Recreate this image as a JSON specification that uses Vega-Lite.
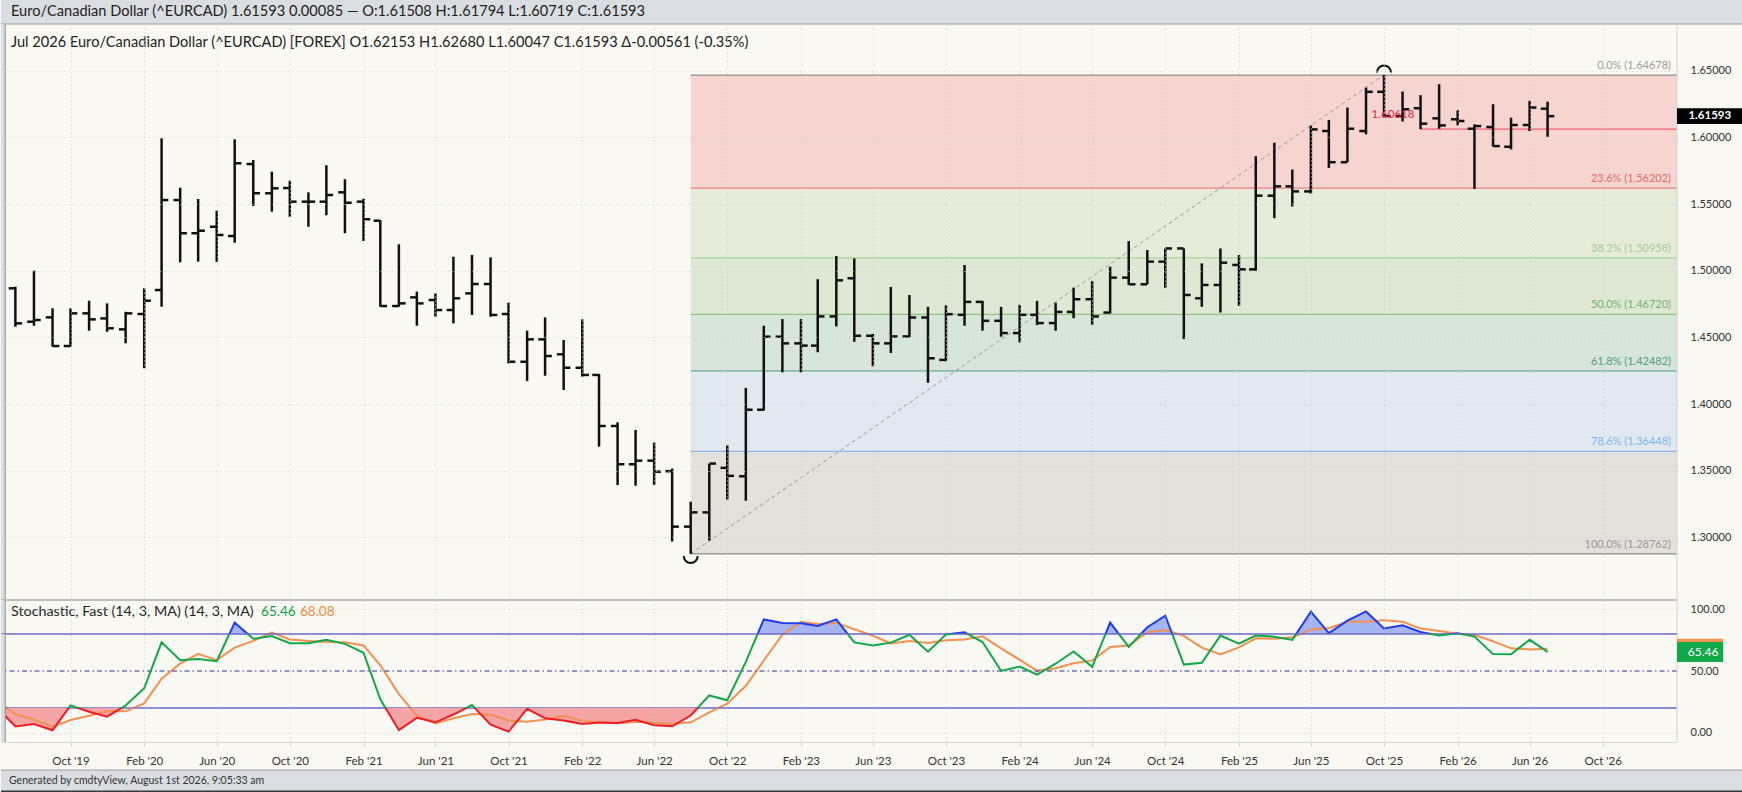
{
  "$schema": "https://vega.github.io/schema/vega-lite/v6.json",
  "background": "#faf8f2",
  "padding": 0,
  "spacing": 0,
  "bounds": "flush",
  "config": {
    "font": "Lato",
    "view": {"stroke": null},
    "axis": {"labelFont": "Lato", "labelColor": "#333333", "labelFontSize": 11}
  },
  "datasets": {
    "bars": [
      {"date": "2019-07-01", "open": 1.4868, "high": 1.4880, "low": 1.4580, "close": 1.4605},
      {"date": "2019-08-01", "open": 1.4617, "high": 1.5000, "low": 1.4587, "close": 1.4630},
      {"date": "2019-09-01", "open": 1.4650, "high": 1.4718, "low": 1.4430, "close": 1.4435},
      {"date": "2019-10-01", "open": 1.4435, "high": 1.4718, "low": 1.4430, "close": 1.4680},
      {"date": "2019-11-01", "open": 1.4680, "high": 1.4775, "low": 1.4550, "close": 1.4635},
      {"date": "2019-12-01", "open": 1.4642, "high": 1.4755, "low": 1.4542, "close": 1.4568},
      {"date": "2020-01-01", "open": 1.4560, "high": 1.4692, "low": 1.4455, "close": 1.4680},
      {"date": "2020-02-01", "open": 1.4675, "high": 1.4868, "low": 1.4268, "close": 1.4775},
      {"date": "2020-03-01", "open": 1.4855, "high": 1.5993, "low": 1.4730, "close": 1.5530},
      {"date": "2020-04-01", "open": 1.5530, "high": 1.5623, "low": 1.5063, "close": 1.5281},
      {"date": "2020-05-01", "open": 1.5281, "high": 1.5538, "low": 1.5068, "close": 1.5300},
      {"date": "2020-06-01", "open": 1.5330, "high": 1.5450, "low": 1.5065, "close": 1.5268},
      {"date": "2020-07-01", "open": 1.5260, "high": 1.5986, "low": 1.5210, "close": 1.5806},
      {"date": "2020-08-01", "open": 1.5800, "high": 1.5830, "low": 1.5485, "close": 1.5581},
      {"date": "2020-09-01", "open": 1.5581, "high": 1.5743, "low": 1.5443, "close": 1.5618},
      {"date": "2020-10-01", "open": 1.5620, "high": 1.5675, "low": 1.5405, "close": 1.5518},
      {"date": "2020-11-01", "open": 1.5518, "high": 1.5588, "low": 1.5330, "close": 1.5518},
      {"date": "2020-12-01", "open": 1.5518, "high": 1.5791, "low": 1.5416, "close": 1.5568},
      {"date": "2021-01-01", "open": 1.5588, "high": 1.5686, "low": 1.5281, "close": 1.5510},
      {"date": "2021-02-01", "open": 1.5518, "high": 1.5540, "low": 1.5223, "close": 1.5386},
      {"date": "2021-03-01", "open": 1.5375, "high": 1.5380, "low": 1.4730, "close": 1.4735},
      {"date": "2021-04-01", "open": 1.4735, "high": 1.5198, "low": 1.4730, "close": 1.4755},
      {"date": "2021-05-01", "open": 1.4800, "high": 1.4843, "low": 1.4587, "close": 1.4755},
      {"date": "2021-06-01", "open": 1.4780, "high": 1.4830, "low": 1.4655, "close": 1.4705},
      {"date": "2021-07-01", "open": 1.4705, "high": 1.5105, "low": 1.4605, "close": 1.4793},
      {"date": "2021-08-01", "open": 1.4830, "high": 1.5118, "low": 1.4668, "close": 1.4900},
      {"date": "2021-09-01", "open": 1.4900, "high": 1.5100, "low": 1.4655, "close": 1.4668},
      {"date": "2021-10-01", "open": 1.4675, "high": 1.4760, "low": 1.4305, "close": 1.4317},
      {"date": "2021-11-01", "open": 1.4317, "high": 1.4550, "low": 1.4173, "close": 1.4485},
      {"date": "2021-12-01", "open": 1.4485, "high": 1.4650, "low": 1.4212, "close": 1.4360},
      {"date": "2022-01-01", "open": 1.4373, "high": 1.4480, "low": 1.4105, "close": 1.4272},
      {"date": "2022-02-01", "open": 1.4272, "high": 1.4635, "low": 1.4205, "close": 1.4218},
      {"date": "2022-03-01", "open": 1.4218, "high": 1.4225, "low": 1.3680, "close": 1.3835},
      {"date": "2022-04-01", "open": 1.3835, "high": 1.3863, "low": 1.3392, "close": 1.3548},
      {"date": "2022-05-01", "open": 1.3548, "high": 1.3805, "low": 1.3387, "close": 1.3575},
      {"date": "2022-06-01", "open": 1.3575, "high": 1.3710, "low": 1.3392, "close": 1.3492},
      {"date": "2022-07-01", "open": 1.3496, "high": 1.3516, "low": 1.2968, "close": 1.3080},
      {"date": "2022-08-01", "open": 1.3080, "high": 1.3267, "low": 1.28762, "close": 1.3187},
      {"date": "2022-09-01", "open": 1.3187, "high": 1.3553, "low": 1.2976, "close": 1.3553},
      {"date": "2022-10-01", "open": 1.3521, "high": 1.3690, "low": 1.3284, "close": 1.3461},
      {"date": "2022-11-01", "open": 1.3458, "high": 1.4121, "low": 1.3274, "close": 1.3957},
      {"date": "2022-12-01", "open": 1.3957, "high": 1.4587, "low": 1.3952, "close": 1.4505},
      {"date": "2023-01-01", "open": 1.4505, "high": 1.4637, "low": 1.4238, "close": 1.4455},
      {"date": "2023-02-01", "open": 1.4455, "high": 1.4637, "low": 1.4238, "close": 1.4438},
      {"date": "2023-03-01", "open": 1.4438, "high": 1.4936, "low": 1.4388, "close": 1.4657},
      {"date": "2023-04-01", "open": 1.4657, "high": 1.5110, "low": 1.4582, "close": 1.4928},
      {"date": "2023-05-01", "open": 1.4943, "high": 1.5092, "low": 1.4467, "close": 1.4512},
      {"date": "2023-06-01", "open": 1.4512, "high": 1.4525, "low": 1.4283, "close": 1.4455},
      {"date": "2023-07-01", "open": 1.4455, "high": 1.4878, "low": 1.4383, "close": 1.4507},
      {"date": "2023-08-01", "open": 1.4507, "high": 1.4818, "low": 1.4500, "close": 1.4649},
      {"date": "2023-09-01", "open": 1.4649, "high": 1.4729, "low": 1.4159, "close": 1.4343},
      {"date": "2023-10-01", "open": 1.4331, "high": 1.4741, "low": 1.4320, "close": 1.4674},
      {"date": "2023-11-01", "open": 1.4669, "high": 1.5043, "low": 1.4587, "close": 1.4766},
      {"date": "2023-12-01", "open": 1.4766, "high": 1.4774, "low": 1.4550, "close": 1.4624},
      {"date": "2024-01-01", "open": 1.4624, "high": 1.4729, "low": 1.4505, "close": 1.4532},
      {"date": "2024-02-01", "open": 1.4532, "high": 1.4744, "low": 1.4462, "close": 1.4669},
      {"date": "2024-03-01", "open": 1.4669, "high": 1.4774, "low": 1.4592, "close": 1.4607},
      {"date": "2024-04-01", "open": 1.4607, "high": 1.4759, "low": 1.4550, "close": 1.4691},
      {"date": "2024-05-01", "open": 1.4691, "high": 1.4873, "low": 1.4644, "close": 1.4786},
      {"date": "2024-06-01", "open": 1.4786, "high": 1.4923, "low": 1.4594, "close": 1.4657},
      {"date": "2024-07-01", "open": 1.4686, "high": 1.5030, "low": 1.4679, "close": 1.4948},
      {"date": "2024-08-01", "open": 1.4948, "high": 1.5222, "low": 1.4893, "close": 1.4898},
      {"date": "2024-09-01", "open": 1.4898, "high": 1.5155, "low": 1.4898, "close": 1.5068},
      {"date": "2024-10-01", "open": 1.5068, "high": 1.5167, "low": 1.4873, "close": 1.5167},
      {"date": "2024-11-01", "open": 1.5167, "high": 1.5167, "low": 1.4487, "close": 1.4818},
      {"date": "2024-12-01", "open": 1.4793, "high": 1.5055, "low": 1.4729, "close": 1.4893},
      {"date": "2025-01-01", "open": 1.4893, "high": 1.5167, "low": 1.4686, "close": 1.5060},
      {"date": "2025-02-01", "open": 1.5043, "high": 1.5117, "low": 1.4736, "close": 1.5010},
      {"date": "2025-03-01", "open": 1.5010, "high": 1.5859, "low": 1.5000, "close": 1.5563},
      {"date": "2025-04-01", "open": 1.5563, "high": 1.5960, "low": 1.5394, "close": 1.5633},
      {"date": "2025-05-01", "open": 1.5633, "high": 1.5759, "low": 1.5482, "close": 1.5595},
      {"date": "2025-06-01", "open": 1.5595, "high": 1.6090, "low": 1.5578, "close": 1.6060},
      {"date": "2025-07-01", "open": 1.6048, "high": 1.6131, "low": 1.5771, "close": 1.5814},
      {"date": "2025-08-01", "open": 1.5814, "high": 1.6224, "low": 1.5814, "close": 1.6065},
      {"date": "2025-09-01", "open": 1.6048, "high": 1.6374, "low": 1.6023, "close": 1.6342},
      {"date": "2025-10-01", "open": 1.6342, "high": 1.64678, "low": 1.6156, "close": 1.6160},
      {"date": "2025-11-01", "open": 1.6160, "high": 1.6344, "low": 1.6120, "close": 1.6211},
      {"date": "2025-12-01", "open": 1.6219, "high": 1.6317, "low": 1.60618, "close": 1.6103},
      {"date": "2026-01-01", "open": 1.6143, "high": 1.6399, "low": 1.6065, "close": 1.6090},
      {"date": "2026-02-01", "open": 1.6136, "high": 1.6203, "low": 1.6090, "close": 1.6123},
      {"date": "2026-03-01", "open": 1.6065, "high": 1.6098, "low": 1.5613, "close": 1.6085},
      {"date": "2026-04-01", "open": 1.6078, "high": 1.6249, "low": 1.5930, "close": 1.5935},
      {"date": "2026-05-01", "open": 1.5930, "high": 1.6148, "low": 1.5910, "close": 1.6093},
      {"date": "2026-06-01", "open": 1.6093, "high": 1.6274, "low": 1.6048, "close": 1.6224},
      {"date": "2026-07-01", "open": 1.62153, "high": 1.62680, "low": 1.60047, "close": 1.61593}
    ],
    "stoch": [
      {"date": "2019-06-01", "k": 20, "d": 25},
      {"date": "2019-07-01", "k": 5, "d": 15},
      {"date": "2019-08-01", "k": 7, "d": 10.7},
      {"date": "2019-09-01", "k": 2, "d": 4.7},
      {"date": "2019-10-01", "k": 22, "d": 10.3},
      {"date": "2019-11-01", "k": 17, "d": 13.7},
      {"date": "2019-12-01", "k": 13, "d": 17.3},
      {"date": "2020-01-01", "k": 22, "d": 17.3},
      {"date": "2020-02-01", "k": 36, "d": 23.7},
      {"date": "2020-03-01", "k": 73.2, "d": 43.7},
      {"date": "2020-04-01", "k": 58.7, "d": 56.0},
      {"date": "2020-05-01", "k": 59.8, "d": 63.9},
      {"date": "2020-06-01", "k": 58.0, "d": 58.8},
      {"date": "2020-07-01", "k": 89.2, "d": 69.0},
      {"date": "2020-08-01", "k": 76.1, "d": 74.4},
      {"date": "2020-09-01", "k": 78.3, "d": 81.2},
      {"date": "2020-10-01", "k": 72.5, "d": 75.6},
      {"date": "2020-11-01", "k": 72.5, "d": 74.4},
      {"date": "2020-12-01", "k": 75.4, "d": 73.5},
      {"date": "2021-01-01", "k": 72.0, "d": 73.3},
      {"date": "2021-02-01", "k": 64.8, "d": 70.7},
      {"date": "2021-03-01", "k": 27.1, "d": 54.6},
      {"date": "2021-04-01", "k": 2.0, "d": 31.3},
      {"date": "2021-05-01", "k": 12.0, "d": 13.7},
      {"date": "2021-06-01", "k": 8.4, "d": 7.5},
      {"date": "2021-07-01", "k": 14.7, "d": 11.7},
      {"date": "2021-08-01", "k": 22.4, "d": 15.2},
      {"date": "2021-09-01", "k": 6.5, "d": 14.5},
      {"date": "2021-10-01", "k": 0.8, "d": 9.9},
      {"date": "2021-11-01", "k": 19.3, "d": 8.9},
      {"date": "2021-12-01", "k": 11.6, "d": 10.6},
      {"date": "2022-01-01", "k": 9.9, "d": 13.6},
      {"date": "2022-02-01", "k": 7.1, "d": 9.5},
      {"date": "2022-03-01", "k": 8.3, "d": 8.4},
      {"date": "2022-04-01", "k": 7.8, "d": 7.7},
      {"date": "2022-05-01", "k": 10.4, "d": 8.8},
      {"date": "2022-06-01", "k": 6.1, "d": 8.1},
      {"date": "2022-07-01", "k": 5.2, "d": 7.2},
      {"date": "2022-08-01", "k": 13.9, "d": 8.4},
      {"date": "2022-09-01", "k": 30.2, "d": 16.4},
      {"date": "2022-10-01", "k": 26.3, "d": 23.5},
      {"date": "2022-11-01", "k": 57.4, "d": 38.0},
      {"date": "2022-12-01", "k": 91.8, "d": 58.5},
      {"date": "2023-01-01", "k": 89.0, "d": 79.4},
      {"date": "2023-02-01", "k": 88.7, "d": 89.8},
      {"date": "2023-03-01", "k": 86.5, "d": 88.1},
      {"date": "2023-04-01", "k": 91.9, "d": 89.0},
      {"date": "2023-05-01", "k": 73.2, "d": 83.9},
      {"date": "2023-06-01", "k": 70.7, "d": 78.6},
      {"date": "2023-07-01", "k": 73.0, "d": 72.3},
      {"date": "2023-08-01", "k": 79.4, "d": 74.4},
      {"date": "2023-09-01", "k": 65.7, "d": 72.7},
      {"date": "2023-10-01", "k": 79.6, "d": 74.9},
      {"date": "2023-11-01", "k": 81.3, "d": 75.5},
      {"date": "2023-12-01", "k": 73.5, "d": 78.1},
      {"date": "2024-01-01", "k": 50.1, "d": 68.3},
      {"date": "2024-02-01", "k": 53.6, "d": 59.1},
      {"date": "2024-03-01", "k": 47.1, "d": 50.3},
      {"date": "2024-04-01", "k": 55.9, "d": 52.2},
      {"date": "2024-05-01", "k": 65.9, "d": 56.3},
      {"date": "2024-06-01", "k": 53.4, "d": 58.4},
      {"date": "2024-07-01", "k": 89.3, "d": 69.5},
      {"date": "2024-08-01", "k": 69.5, "d": 70.7},
      {"date": "2024-09-01", "k": 85.5, "d": 81.4},
      {"date": "2024-10-01", "k": 94.8, "d": 83.3},
      {"date": "2024-11-01", "k": 55.2, "d": 78.5},
      {"date": "2024-12-01", "k": 56.7, "d": 68.9},
      {"date": "2025-01-01", "k": 78.7, "d": 63.5},
      {"date": "2025-02-01", "k": 72.1, "d": 69.2},
      {"date": "2025-03-01", "k": 78.8, "d": 76.5},
      {"date": "2025-04-01", "k": 77.8, "d": 76.2},
      {"date": "2025-05-01", "k": 75.2, "d": 77.3},
      {"date": "2025-06-01", "k": 98.1, "d": 83.7},
      {"date": "2025-07-01", "k": 80.7, "d": 84.7},
      {"date": "2025-08-01", "k": 90.8, "d": 89.9},
      {"date": "2025-09-01", "k": 98.3, "d": 89.9},
      {"date": "2025-10-01", "k": 84.5, "d": 91.2},
      {"date": "2025-11-01", "k": 87.0, "d": 89.9},
      {"date": "2025-12-01", "k": 81.6, "d": 84.4},
      {"date": "2026-01-01", "k": 78.8, "d": 82.5},
      {"date": "2026-02-01", "k": 80.6, "d": 80.3},
      {"date": "2026-03-01", "k": 77.9, "d": 79.1},
      {"date": "2026-04-01", "k": 63.7, "d": 74.1},
      {"date": "2026-05-01", "k": 63.5, "d": 68.4},
      {"date": "2026-06-01", "k": 75.3, "d": 67.5},
      {"date": "2026-07-01", "k": 65.46, "d": 68.08}
    ],
    "fib": [
      {"level": "0.0%", "price": 1.64678, "label": "0.0% (1.64678)"},
      {"level": "23.6%", "price": 1.56202, "label": "23.6% (1.56202)"},
      {"level": "38.2%", "price": 1.50958, "label": "38.2% (1.50958)"},
      {"level": "50.0%", "price": 1.46720, "label": "50.0% (1.46720)"},
      {"level": "61.8%", "price": 1.42482, "label": "61.8% (1.42482)"},
      {"level": "78.6%", "price": 1.36448, "label": "78.6% (1.36448)"},
      {"level": "100.0%", "price": 1.28762, "label": "100.0% (1.28762)"}
    ],
    "bands": [
      {"band": "0-23.6", "top": 1.64678, "bottom": 1.56202},
      {"band": "23.6-38.2", "top": 1.56202, "bottom": 1.50958},
      {"band": "38.2-50", "top": 1.50958, "bottom": 1.46720},
      {"band": "50-61.8", "top": 1.46720, "bottom": 1.42482},
      {"band": "61.8-78.6", "top": 1.42482, "bottom": 1.36448},
      {"band": "78.6-100", "top": 1.36448, "bottom": 1.28762}
    ]
  },
  "vconcat": [
    {
      "width": 1742,
      "height": 24,
      "view": {"fill": "#dadde1", "stroke": null},
      "layer": [
        {
          "data": {"values": [{"t": "Euro/Canadian Dollar (^EURCAD) 1.61593 0.00085 — O:1.61508 H:1.61794 L:1.60719 C:1.61593"}]},
          "mark": {"type": "text", "align": "left", "baseline": "middle", "dx": 10, "fontSize": 14.6, "color": "#222222"},
          "encoding": {
            "x": {"datum": 0, "type": "quantitative", "scale": {"domain": [0, 1]}, "axis": null},
            "y": {"datum": 0.5, "type": "quantitative", "scale": {"domain": [0, 1]}, "axis": null},
            "text": {"field": "t"}
          }
        },
        {
          "data": {"values": [{}]},
          "mark": {"type": "rule", "color": "#9c9c9c", "strokeWidth": 1},
          "encoding": {"y": {"datum": 0, "type": "quantitative"}}
        }
      ]
    },
    {
      "width": 1676,
      "height": 576,
      "layer": [
        {
          "data": {"name": "bands"},
          "mark": {"type": "rect", "opacity": 1},
          "encoding": {
            "x": {
              "datum": {"year": 2022, "month": 8, "date": 1, "utc": true},
              "type": "temporal",
              "scale": {"type": "utc", "domain": [{"year": 2019, "month": 6, "date": 7, "utc": true}, {"year": 2027, "month": 2, "date": 2, "utc": true}]},
              "axis": {
                "title": null, "labels": false, "ticks": false, "domain": false, "grid": true,
                "gridColor": "#cfcfcf", "gridDash": [1, 3], "zindex": 1, "minExtent": 0, "maxExtent": 0,
                "values": [
                  {"year": 2019, "month": 10, "date": 1, "utc": true}, {"year": 2020, "month": 2, "date": 1, "utc": true}, {"year": 2020, "month": 6, "date": 1, "utc": true},
                  {"year": 2020, "month": 10, "date": 1, "utc": true}, {"year": 2021, "month": 2, "date": 1, "utc": true}, {"year": 2021, "month": 6, "date": 1, "utc": true},
                  {"year": 2021, "month": 10, "date": 1, "utc": true}, {"year": 2022, "month": 2, "date": 1, "utc": true}, {"year": 2022, "month": 6, "date": 1, "utc": true},
                  {"year": 2022, "month": 10, "date": 1, "utc": true}, {"year": 2023, "month": 2, "date": 1, "utc": true}, {"year": 2023, "month": 6, "date": 1, "utc": true},
                  {"year": 2023, "month": 10, "date": 1, "utc": true}, {"year": 2024, "month": 2, "date": 1, "utc": true}, {"year": 2024, "month": 6, "date": 1, "utc": true},
                  {"year": 2024, "month": 10, "date": 1, "utc": true}, {"year": 2025, "month": 2, "date": 1, "utc": true}, {"year": 2025, "month": 6, "date": 1, "utc": true},
                  {"year": 2025, "month": 10, "date": 1, "utc": true}, {"year": 2026, "month": 2, "date": 1, "utc": true}, {"year": 2026, "month": 6, "date": 1, "utc": true},
                  {"year": 2026, "month": 10, "date": 1, "utc": true}
                ]
              }
            },
            "x2": {"datum": {"year": 2027, "month": 2, "date": 2, "utc": true}},
            "y": {
              "field": "top",
              "type": "quantitative",
              "scale": {"domain": [1.25296, 1.68508], "nice": false, "zero": false},
              "axis": {
                "orient": "right", "title": null, "ticks": false, "domain": false, "labelAlign": "left",
                "labelBaseline": "middle", "labelPadding": 13, "format": ".5f", "grid": true,
                "gridColor": "#cfcfcf", "gridDash": [1, 3], "zindex": 1,
                "values": [1.30, 1.35, 1.40, 1.45, 1.50, 1.55, 1.60, 1.65]
              }
            },
            "y2": {"field": "bottom"},
            "color": {
              "field": "band",
              "type": "nominal",
              "legend": null,
              "scale": {
                "domain": ["0-23.6", "23.6-38.2", "38.2-50", "50-61.8", "61.8-78.6", "78.6-100"],
                "range": ["#f6d4d0", "#e6ebda", "#dfe8d4", "#d8e5db", "#e1e8f0", "#e4e0dc"]
              }
            }
          }
        },
        {
          "data": {"name": "fib"},
          "mark": {"type": "rule", "strokeWidth": 1.2},
          "encoding": {
            "x": {"datum": {"year": 2022, "month": 8, "date": 1, "utc": true}, "type": "temporal"},
            "x2": {"datum": {"year": 2027, "month": 2, "date": 2, "utc": true}},
            "y": {"field": "price", "type": "quantitative"},
            "stroke": {
              "field": "level", "type": "nominal", "legend": null,
              "scale": {
                "domain": ["0.0%", "23.6%", "38.2%", "50.0%", "61.8%", "78.6%", "100.0%"],
                "range": ["#8f8f8f", "#ee8080", "#a8d59a", "#8ec67e", "#6aac97", "#89b8e8", "#8a8a8a"]
              }
            }
          }
        },
        {
          "data": {"name": "fib"},
          "mark": {"type": "text", "align": "right", "baseline": "middle", "dx": -6, "dy": -9, "fontSize": 11},
          "encoding": {
            "x": {"datum": {"year": 2027, "month": 2, "date": 2, "utc": true}, "type": "temporal"},
            "y": {"field": "price", "type": "quantitative"},
            "text": {"field": "label"},
            "fill": {
              "field": "level", "type": "nominal", "legend": null,
              "scale": {
                "domain": ["0.0%", "23.6%", "38.2%", "50.0%", "61.8%", "78.6%", "100.0%"],
                "range": ["#9d9d9d", "#e86868", "#a3cf93", "#77b467", "#4d9a85", "#80b6ea", "#979797"]
              }
            }
          }
        },
        {
          "data": {"values": [{}]},
          "mark": {"type": "rule", "color": "#9a9a9a", "strokeWidth": 1, "strokeDash": [4, 3]},
          "encoding": {
            "x": {"datum": {"year": 2022, "month": 8, "date": 1, "utc": true}, "type": "temporal"},
            "x2": {"datum": {"year": 2025, "month": 10, "date": 1, "utc": true}},
            "y": {"datum": 1.28762, "type": "quantitative"},
            "y2": {"datum": 1.64678}
          }
        },
        {
          "data": {"values": [{}]},
          "mark": {"type": "rule", "color": "#ef5f73", "strokeWidth": 1.3},
          "encoding": {
            "x": {"datum": {"year": 2025, "month": 12, "date": 1, "utc": true}, "type": "temporal"},
            "x2": {"datum": {"year": 2027, "month": 2, "date": 2, "utc": true}},
            "y": {"datum": 1.60618, "type": "quantitative"}
          }
        },
        {
          "data": {"name": "bars"},
          "mark": {"type": "rule", "color": "#111111", "strokeWidth": 2.5},
          "encoding": {
            "x": {"field": "date", "type": "temporal"},
            "y": {"field": "low", "type": "quantitative"},
            "y2": {"field": "high"}
          }
        },
        {
          "data": {"name": "bars"},
          "mark": {"type": "tick", "orient": "horizontal", "color": "#111111", "opacity": 1, "thickness": 2.5, "size": 6.5, "xOffset": -3.5},
          "encoding": {
            "x": {"field": "date", "type": "temporal"},
            "y": {"field": "open", "type": "quantitative"}
          }
        },
        {
          "data": {"name": "bars"},
          "mark": {"type": "tick", "orient": "horizontal", "color": "#111111", "opacity": 1, "thickness": 2.5, "size": 6.5, "xOffset": 3.5},
          "encoding": {
            "x": {"field": "date", "type": "temporal"},
            "y": {"field": "close", "type": "quantitative"}
          }
        },
        {
          "data": {"values": [{"t": "1.60618"}]},
          "mark": {"type": "text", "align": "center", "baseline": "middle", "fontSize": 11.5, "color": "#ee2547"},
          "encoding": {
            "x": {"datum": {"year": 2025, "month": 10, "date": 16, "utc": true}, "type": "temporal"},
            "y": {"datum": 1.6166, "type": "quantitative"},
            "text": {"field": "t"}
          }
        },
        {
          "data": {"values": [{}]},
          "mark": {"type": "point", "shape": "M -1 0.5 A 1 1 0 0 1 1 0.5", "filled": false, "stroke": "#111111", "strokeWidth": 2, "size": 196, "opacity": 1},
          "encoding": {
            "x": {"datum": {"year": 2025, "month": 10, "date": 1, "utc": true}, "type": "temporal"},
            "y": {"datum": 1.6513, "type": "quantitative"}
          }
        },
        {
          "data": {"values": [{}]},
          "mark": {"type": "point", "shape": "M -1 -0.5 A 1 1 0 0 0 1 -0.5", "filled": false, "stroke": "#111111", "strokeWidth": 2, "size": 196, "opacity": 1},
          "encoding": {
            "x": {"datum": {"year": 2022, "month": 8, "date": 1, "utc": true}, "type": "temporal"},
            "y": {"datum": 1.2833, "type": "quantitative"}
          }
        },
        {
          "data": {"values": [{"t": "Jul 2026 Euro/Canadian Dollar (^EURCAD) [FOREX]  O1.62153  H1.62680  L1.60047  C1.61593  Δ-0.00561 (-0.35%)"}]},
          "mark": {"type": "text", "align": "left", "baseline": "middle", "dx": 10, "fontSize": 14.6, "color": "#222222"},
          "encoding": {
            "x": {"datum": {"year": 2019, "month": 6, "date": 7, "utc": true}, "type": "temporal"},
            "y": {"datum": 1.6708, "type": "quantitative"},
            "text": {"field": "t"}
          }
        },
        {
          "data": {"values": [{}]},
          "mark": {"type": "rect", "color": "#dadde1", "opacity": 1},
          "encoding": {
            "x": {"datum": {"year": 2019, "month": 6, "date": 7, "utc": true}, "type": "temporal"},
            "x2": {"datum": {"year": 2019, "month": 6, "date": 14, "utc": true}}
          }
        },
        {
          "data": {"values": [{}]},
          "mark": {"type": "rule", "color": "#8c8c8c", "strokeWidth": 1},
          "encoding": {"x": {"datum": {"year": 2019, "month": 6, "date": 14, "utc": true}, "type": "temporal"}}
        },
        {
          "data": {"values": [{}]},
          "mark": {"type": "rule", "color": "#bdbdbd", "strokeWidth": 2},
          "encoding": {"y": {"datum": 1.25296, "type": "quantitative"}}
        },
        {
          "data": {"values": [{}]},
          "mark": {"type": "rule", "color": "#d2d2d2", "strokeWidth": 1},
          "encoding": {"x": {"datum": {"year": 2027, "month": 2, "date": 2, "utc": true}, "type": "temporal"}}
        },
        {
          "data": {"values": [{}]},
          "mark": {"type": "rect", "color": "#000000", "opacity": 1},
          "encoding": {
            "x": {"datum": {"year": 2027, "month": 2, "date": 2, "utc": true}, "type": "temporal"},
            "x2": {"datum": {"year": 2027, "month": 5, "date": 23, "utc": true}},
            "y": {"datum": 1.6219, "type": "quantitative"},
            "y2": {"datum": 1.6100}
          }
        },
        {
          "data": {"values": [{"t": "1.61593"}]},
          "mark": {"type": "text", "align": "left", "baseline": "middle", "fontSize": 11.5, "fontWeight": "bold", "color": "#ffffff"},
          "encoding": {
            "x": {"datum": {"year": 2027, "month": 2, "date": 21, "utc": true}, "type": "temporal"},
            "y": {"datum": 1.61593, "type": "quantitative"},
            "text": {"field": "t"}
          }
        }
      ]
    },
    {
      "width": 1676,
      "height": 34,
      "layer": [
        {
          "data": {"name": "stoch"},
          "mark": {"type": "area", "color": "#a5b4f3", "opacity": 1, "clip": true},
          "encoding": {
            "x": {
              "field": "date",
              "type": "temporal",
              "scale": {"type": "utc", "domain": [{"year": 2019, "month": 6, "date": 7, "utc": true}, {"year": 2027, "month": 2, "date": 2, "utc": true}]},
              "axis": {
                "title": null, "labels": false, "ticks": false, "domain": false, "grid": true,
                "gridColor": "#cfcfcf", "gridDash": [1, 3], "zindex": 1, "minExtent": 0, "maxExtent": 0,
                "values": [
                  {"year": 2019, "month": 10, "date": 1, "utc": true}, {"year": 2020, "month": 2, "date": 1, "utc": true}, {"year": 2020, "month": 6, "date": 1, "utc": true},
                  {"year": 2020, "month": 10, "date": 1, "utc": true}, {"year": 2021, "month": 2, "date": 1, "utc": true}, {"year": 2021, "month": 6, "date": 1, "utc": true},
                  {"year": 2021, "month": 10, "date": 1, "utc": true}, {"year": 2022, "month": 2, "date": 1, "utc": true}, {"year": 2022, "month": 6, "date": 1, "utc": true},
                  {"year": 2022, "month": 10, "date": 1, "utc": true}, {"year": 2023, "month": 2, "date": 1, "utc": true}, {"year": 2023, "month": 6, "date": 1, "utc": true},
                  {"year": 2023, "month": 10, "date": 1, "utc": true}, {"year": 2024, "month": 2, "date": 1, "utc": true}, {"year": 2024, "month": 6, "date": 1, "utc": true},
                  {"year": 2024, "month": 10, "date": 1, "utc": true}, {"year": 2025, "month": 2, "date": 1, "utc": true}, {"year": 2025, "month": 6, "date": 1, "utc": true},
                  {"year": 2025, "month": 10, "date": 1, "utc": true}, {"year": 2026, "month": 2, "date": 1, "utc": true}, {"year": 2026, "month": 6, "date": 1, "utc": true},
                  {"year": 2026, "month": 10, "date": 1, "utc": true}
                ]
              }
            },
            "y": {
              "field": "k",
              "type": "quantitative",
              "scale": {"domain": [80, 107.57], "nice": false, "zero": false},
              "axis": {
                "orient": "right", "title": null, "ticks": false, "domain": false, "labelAlign": "left",
                "labelBaseline": "middle", "labelPadding": 13, "format": ".2f", "grid": true,
                "gridColor": "#cfcfcf", "gridDash": [1, 3], "zindex": 1, "values": [100]
              }
            },
            "y2": {"datum": 80}
          }
        },
        {
          "data": {"name": "stoch"},
          "mark": {"type": "line", "color": "#f29150", "strokeWidth": 2, "clip": true},
          "encoding": {
            "x": {"field": "date", "type": "temporal"},
            "y": {"field": "d", "type": "quantitative"}
          }
        },
        {
          "data": {"name": "stoch"},
          "mark": {"type": "line", "color": "#1f3cf0", "strokeWidth": 2, "clip": true},
          "encoding": {
            "x": {"field": "date", "type": "temporal"},
            "y": {"field": "k", "type": "quantitative"}
          }
        },
        {
          "data": {"values": [{"t": "Stochastic, Fast (14, 3, MA)  (14, 3, MA)"}]},
          "mark": {"type": "text", "align": "left", "baseline": "middle", "dx": 10, "fontSize": 14.3, "color": "#222222"},
          "encoding": {
            "x": {"datum": {"year": 2019, "month": 6, "date": 7, "utc": true}, "type": "temporal"},
            "y": {"datum": 97.8, "type": "quantitative"},
            "text": {"field": "t"}
          }
        },
        {
          "data": {"values": [{"t": "65.46"}]},
          "mark": {"type": "text", "align": "left", "baseline": "middle", "fontSize": 13.5, "color": "#12a048"},
          "encoding": {
            "x": {"datum": {"year": 2020, "month": 8, "date": 14, "utc": true}, "type": "temporal"},
            "y": {"datum": 97.8, "type": "quantitative"},
            "text": {"field": "t"}
          }
        },
        {
          "data": {"values": [{"t": "68.08"}]},
          "mark": {"type": "text", "align": "left", "baseline": "middle", "fontSize": 13.5, "color": "#f0883c"},
          "encoding": {
            "x": {"datum": {"year": 2020, "month": 10, "date": 18, "utc": true}, "type": "temporal"},
            "y": {"datum": 97.8, "type": "quantitative"},
            "text": {"field": "t"}
          }
        },
        {
          "data": {"values": [{}]},
          "mark": {"type": "rect", "color": "#dadde1", "opacity": 1},
          "encoding": {
            "x": {"datum": {"year": 2019, "month": 6, "date": 7, "utc": true}, "type": "temporal"},
            "x2": {"datum": {"year": 2019, "month": 6, "date": 14, "utc": true}}
          }
        },
        {
          "data": {"values": [{}]},
          "mark": {"type": "rule", "color": "#8c8c8c", "strokeWidth": 1},
          "encoding": {"x": {"datum": {"year": 2019, "month": 6, "date": 14, "utc": true}, "type": "temporal"}}
        },
        {
          "data": {"values": [{}]},
          "mark": {"type": "rule", "color": "#d2d2d2", "strokeWidth": 1},
          "encoding": {"x": {"datum": {"year": 2027, "month": 2, "date": 2, "utc": true}, "type": "temporal"}}
        }
      ]
    },
    {
      "width": 1676,
      "height": 74,
      "layer": [
        {
          "data": {"name": "stoch"},
          "mark": {"type": "line", "color": "#f29150", "strokeWidth": 2, "clip": true},
          "encoding": {
            "x": {
              "field": "date",
              "type": "temporal",
              "scale": {"type": "utc", "domain": [{"year": 2019, "month": 6, "date": 7, "utc": true}, {"year": 2027, "month": 2, "date": 2, "utc": true}]},
              "axis": {
                "title": null, "labels": false, "ticks": false, "domain": false, "grid": true,
                "gridColor": "#cfcfcf", "gridDash": [1, 3], "zindex": 0, "minExtent": 0, "maxExtent": 0,
                "values": [
                  {"year": 2019, "month": 10, "date": 1, "utc": true}, {"year": 2020, "month": 2, "date": 1, "utc": true}, {"year": 2020, "month": 6, "date": 1, "utc": true},
                  {"year": 2020, "month": 10, "date": 1, "utc": true}, {"year": 2021, "month": 2, "date": 1, "utc": true}, {"year": 2021, "month": 6, "date": 1, "utc": true},
                  {"year": 2021, "month": 10, "date": 1, "utc": true}, {"year": 2022, "month": 2, "date": 1, "utc": true}, {"year": 2022, "month": 6, "date": 1, "utc": true},
                  {"year": 2022, "month": 10, "date": 1, "utc": true}, {"year": 2023, "month": 2, "date": 1, "utc": true}, {"year": 2023, "month": 6, "date": 1, "utc": true},
                  {"year": 2023, "month": 10, "date": 1, "utc": true}, {"year": 2024, "month": 2, "date": 1, "utc": true}, {"year": 2024, "month": 6, "date": 1, "utc": true},
                  {"year": 2024, "month": 10, "date": 1, "utc": true}, {"year": 2025, "month": 2, "date": 1, "utc": true}, {"year": 2025, "month": 6, "date": 1, "utc": true},
                  {"year": 2025, "month": 10, "date": 1, "utc": true}, {"year": 2026, "month": 2, "date": 1, "utc": true}, {"year": 2026, "month": 6, "date": 1, "utc": true},
                  {"year": 2026, "month": 10, "date": 1, "utc": true}
                ]
              }
            },
            "y": {
              "field": "d",
              "type": "quantitative",
              "scale": {"domain": [20, 80], "nice": false, "zero": false},
              "axis": {
                "orient": "right", "title": null, "ticks": false, "domain": false, "labelAlign": "left",
                "labelBaseline": "middle", "labelPadding": 13, "format": ".2f", "grid": false, "values": [50]
              }
            }
          }
        },
        {
          "data": {"values": [{}]},
          "mark": {"type": "rule", "color": "#2e2e9a", "strokeWidth": 1.2, "strokeDash": [5, 3, 1.5, 3]},
          "encoding": {"y": {"datum": 50, "type": "quantitative"}}
        },
        {
          "data": {"values": [{}]},
          "mark": {"type": "rule", "color": "#6a6acb", "strokeWidth": 1.3},
          "encoding": {"y": {"datum": 80, "type": "quantitative"}}
        },
        {
          "data": {"values": [{}]},
          "mark": {"type": "rule", "color": "#6a6acb", "strokeWidth": 1.3},
          "encoding": {"y": {"datum": 20, "type": "quantitative"}}
        },
        {
          "data": {"name": "stoch"},
          "mark": {"type": "line", "color": "#12a84a", "strokeWidth": 2, "clip": true},
          "encoding": {
            "x": {"field": "date", "type": "temporal"},
            "y": {"field": "k", "type": "quantitative"}
          }
        },
        {
          "data": {"values": [{}]},
          "mark": {"type": "rect", "color": "#dadde1", "opacity": 1},
          "encoding": {
            "x": {"datum": {"year": 2019, "month": 6, "date": 7, "utc": true}, "type": "temporal"},
            "x2": {"datum": {"year": 2019, "month": 6, "date": 14, "utc": true}}
          }
        },
        {
          "data": {"values": [{}]},
          "mark": {"type": "rule", "color": "#8c8c8c", "strokeWidth": 1},
          "encoding": {"x": {"datum": {"year": 2019, "month": 6, "date": 14, "utc": true}, "type": "temporal"}}
        },
        {
          "data": {"values": [{}]},
          "mark": {"type": "rule", "color": "#d2d2d2", "strokeWidth": 1},
          "encoding": {"x": {"datum": {"year": 2027, "month": 2, "date": 2, "utc": true}, "type": "temporal"}}
        },
        {
          "data": {"values": [{}]},
          "mark": {"type": "rect", "color": "#f29150", "opacity": 1},
          "encoding": {
            "x": {"datum": {"year": 2027, "month": 2, "date": 2, "utc": true}, "type": "temporal"},
            "x2": {"datum": {"year": 2027, "month": 4, "date": 20, "utc": true}},
            "y": {"datum": 60.0, "type": "quantitative"},
            "y2": {"datum": 76.2}
          }
        },
        {
          "data": {"values": [{}]},
          "mark": {"type": "rect", "color": "#11a84a", "opacity": 1},
          "encoding": {
            "x": {"datum": {"year": 2027, "month": 2, "date": 2, "utc": true}, "type": "temporal"},
            "x2": {"datum": {"year": 2027, "month": 4, "date": 20, "utc": true}},
            "y": {"datum": 57.3, "type": "quantitative"},
            "y2": {"datum": 73.5}
          }
        },
        {
          "data": {"values": [{"t": "65.46"}]},
          "mark": {"type": "text", "align": "left", "baseline": "middle", "fontSize": 12, "color": "#ffffff"},
          "encoding": {
            "x": {"datum": {"year": 2027, "month": 2, "date": 20, "utc": true}, "type": "temporal"},
            "y": {"datum": 65.4, "type": "quantitative"},
            "text": {"field": "t"}
          }
        }
      ]
    },
    {
      "width": 1676,
      "height": 34,
      "layer": [
        {
          "data": {"name": "stoch"},
          "mark": {"type": "area", "color": "#f4a4a4", "opacity": 1, "clip": true},
          "encoding": {
            "x": {
              "field": "date",
              "type": "temporal",
              "scale": {"type": "utc", "domain": [{"year": 2019, "month": 6, "date": 7, "utc": true}, {"year": 2027, "month": 2, "date": 2, "utc": true}]},
              "axis": {
                "title": null, "orient": "bottom", "labels": true, "ticks": true, "tickSize": 4, "tickColor": "#cccccc",
                "domain": true, "domainColor": "#d6d6d6", "labelPadding": 9, "labelFontSize": 11.5,
                "labelExpr": "utcFormat(datum.value, \"%b '%y\")",
                "grid": true, "gridColor": "#cfcfcf", "gridDash": [1, 3], "zindex": 1, "minExtent": 28, "maxExtent": 28,
                "values": [
                  {"year": 2019, "month": 10, "date": 1, "utc": true}, {"year": 2020, "month": 2, "date": 1, "utc": true}, {"year": 2020, "month": 6, "date": 1, "utc": true},
                  {"year": 2020, "month": 10, "date": 1, "utc": true}, {"year": 2021, "month": 2, "date": 1, "utc": true}, {"year": 2021, "month": 6, "date": 1, "utc": true},
                  {"year": 2021, "month": 10, "date": 1, "utc": true}, {"year": 2022, "month": 2, "date": 1, "utc": true}, {"year": 2022, "month": 6, "date": 1, "utc": true},
                  {"year": 2022, "month": 10, "date": 1, "utc": true}, {"year": 2023, "month": 2, "date": 1, "utc": true}, {"year": 2023, "month": 6, "date": 1, "utc": true},
                  {"year": 2023, "month": 10, "date": 1, "utc": true}, {"year": 2024, "month": 2, "date": 1, "utc": true}, {"year": 2024, "month": 6, "date": 1, "utc": true},
                  {"year": 2024, "month": 10, "date": 1, "utc": true}, {"year": 2025, "month": 2, "date": 1, "utc": true}, {"year": 2025, "month": 6, "date": 1, "utc": true},
                  {"year": 2025, "month": 10, "date": 1, "utc": true}, {"year": 2026, "month": 2, "date": 1, "utc": true}, {"year": 2026, "month": 6, "date": 1, "utc": true},
                  {"year": 2026, "month": 10, "date": 1, "utc": true}
                ]
              }
            },
            "y": {
              "field": "k",
              "type": "quantitative",
              "scale": {"domain": [-7.57, 20], "nice": false, "zero": false},
              "axis": {
                "orient": "right", "title": null, "ticks": false, "domain": false, "labelAlign": "left",
                "labelBaseline": "middle", "labelPadding": 13, "format": ".2f", "grid": true,
                "gridColor": "#cfcfcf", "gridDash": [1, 3], "zindex": 1, "values": [0]
              }
            },
            "y2": {"datum": 20}
          }
        },
        {
          "data": {"name": "stoch"},
          "mark": {"type": "line", "color": "#f29150", "strokeWidth": 2, "clip": true},
          "encoding": {
            "x": {"field": "date", "type": "temporal"},
            "y": {"field": "d", "type": "quantitative"}
          }
        },
        {
          "data": {"name": "stoch"},
          "mark": {"type": "line", "color": "#ee1c24", "strokeWidth": 2, "clip": true},
          "encoding": {
            "x": {"field": "date", "type": "temporal"},
            "y": {"field": "k", "type": "quantitative"}
          }
        },
        {
          "data": {"values": [{}]},
          "mark": {"type": "rect", "color": "#dadde1", "opacity": 1},
          "encoding": {
            "x": {"datum": {"year": 2019, "month": 6, "date": 7, "utc": true}, "type": "temporal"},
            "x2": {"datum": {"year": 2019, "month": 6, "date": 14, "utc": true}}
          }
        },
        {
          "data": {"values": [{}]},
          "mark": {"type": "rule", "color": "#8c8c8c", "strokeWidth": 1},
          "encoding": {"x": {"datum": {"year": 2019, "month": 6, "date": 14, "utc": true}, "type": "temporal"}}
        },
        {
          "data": {"values": [{}]},
          "mark": {"type": "rule", "color": "#d2d2d2", "strokeWidth": 1},
          "encoding": {"x": {"datum": {"year": 2027, "month": 2, "date": 2, "utc": true}, "type": "temporal"}}
        }
      ]
    },
    {
      "width": 1742,
      "height": 50,
      "layer": [
        {
          "data": {"values": [{}]},
          "mark": {"type": "rect", "color": "#dadde1", "opacity": 1},
          "encoding": {
            "x": {"datum": 0, "type": "quantitative", "scale": {"domain": [0, 1]}, "axis": null},
            "x2": {"datum": 1},
            "y": {"datum": 0, "type": "quantitative", "scale": {"domain": [0, 50]}, "axis": null},
            "y2": {"datum": 22}
          }
        },
        {
          "data": {"values": [{}]},
          "mark": {"type": "rule", "color": "#9c9c9c", "strokeWidth": 1},
          "encoding": {
            "x": {"datum": 0, "type": "quantitative"},
            "x2": {"datum": 1},
            "y": {"datum": 22, "type": "quantitative"}
          }
        },
        {
          "data": {"values": [{}]},
          "mark": {"type": "rect", "color": "#3a3a3a", "opacity": 1},
          "encoding": {
            "x": {"datum": 0, "type": "quantitative"},
            "x2": {"datum": 1},
            "y": {"datum": 0, "type": "quantitative"},
            "y2": {"datum": 1.5}
          }
        },
        {
          "data": {"values": [{"t": "Generated by cmdtyView, August 1st 2026, 9:05:33 am"}]},
          "mark": {"type": "text", "align": "left", "baseline": "middle", "dx": 8, "fontSize": 10.5, "color": "#333333"},
          "encoding": {
            "x": {"datum": 0, "type": "quantitative"},
            "y": {"datum": 11.5, "type": "quantitative"},
            "text": {"field": "t"}
          }
        }
      ]
    }
  ]
}
